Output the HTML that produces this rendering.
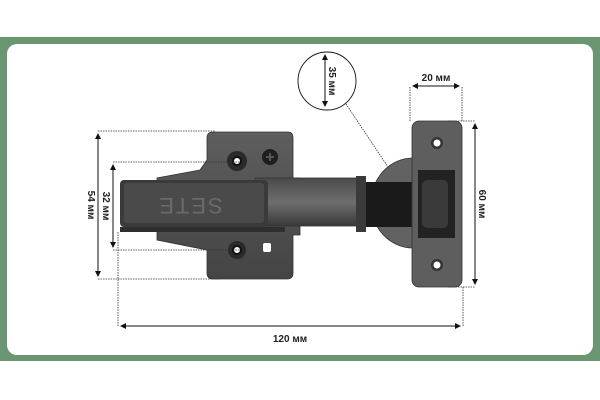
<!DOCTYPE html>
<html><head><meta charset="utf-8"><style>
html,body{margin:0;padding:0;width:600px;height:400px;background:#fff;overflow:hidden}
svg{display:block}
text{font-family:"Liberation Sans",sans-serif;font-weight:bold;font-size:10px;fill:#222}
</style></head><body>
<svg width="600" height="400" viewBox="0 0 600 400">
<defs>
<linearGradient id="g1" x1="0" y1="0" x2="0" y2="1"><stop offset="0" stop-color="#5e5e5e"/><stop offset="1" stop-color="#444"/></linearGradient>
<linearGradient id="g2" x1="0" y1="0" x2="0" y2="1"><stop offset="0" stop-color="#4a4a4a"/><stop offset="0.5" stop-color="#6e6e6e"/><stop offset="1" stop-color="#3a3a3a"/></linearGradient>
<marker id="a" markerWidth="6" markerHeight="6" refX="5" refY="3" orient="auto-start-reverse"><path d="M0,0 L6,3 L0,6z" fill="#111"/></marker>
</defs>
<rect x="0" y="37" width="600" height="324" fill="#6b9672"/>
<rect x="7" y="44" width="586" height="311" rx="10" fill="#fff"/>
<!-- mounting plate -->
<path d="M207,138 Q207,132 213,132 L288,132 Q293,132 293,138 L293,178 L300,178 L300,235 L293,235 L293,273 Q293,279 287,279 L213,279 Q207,279 207,273 L207,250 L157,240 L157,178 L200,170 L207,160 Z" fill="url(#g1)" stroke="#333" stroke-width="0.8"/>
<circle cx="237" cy="161" r="10" fill="#2a2a2a"/><circle cx="237" cy="161" r="5" fill="#111"/><circle cx="237" cy="161" r="3" fill="#fff"/>
<circle cx="270" cy="157" r="8" fill="#1e1e1e"/><path d="M266,157h8M270,153v8" stroke="#555" stroke-width="2"/>
<circle cx="237" cy="250" r="9" fill="#2a2a2a"/><circle cx="237" cy="250" r="5" fill="#111"/><circle cx="237" cy="250" r="3" fill="#fff"/>
<rect x="263" y="243" width="8" height="9" rx="2" fill="#fff"/>
<!-- arm -->
<rect x="255" y="178" width="105" height="48" fill="url(#g2)" stroke="#333" stroke-width="0.8"/>
<rect x="120" y="180" width="148" height="47" rx="4" fill="#3a3a3a"/>
<rect x="124" y="183" width="140" height="40" rx="3" fill="#4a4a4a"/>
<text x="190" y="212" text-anchor="middle" transform="rotate(180 190 205)" style="font-size:22px;fill:#6a6a6a;letter-spacing:2px;font-weight:normal">SETE</text>
<rect x="120" y="227" width="165" height="5" fill="#2e2e2e"/>
<rect x="356" y="176" width="10" height="56" fill="#3a3a3a"/>
<!-- cup -->
<path d="M413,158 A42,45 0 0 0 413,248 Z" fill="#626262" stroke="#333" stroke-width="0.8"/>
<rect x="366" y="182" width="47" height="45" fill="#1a1a1a"/>
<!-- door plate -->
<rect x="412" y="121" width="50" height="166" rx="7" fill="#5e5e5e" stroke="#333" stroke-width="0.8"/>
<path d="M418,170 L455,170 L455,238 L418,238 Z" fill="#222"/>
<rect x="422" y="180" width="26" height="48" rx="5" fill="#3a3a3a"/>
<circle cx="437" cy="143" r="6" fill="#333"/><circle cx="437" cy="143" r="3.5" fill="#fff"/>
<circle cx="437" cy="265" r="6" fill="#333"/><circle cx="437" cy="265" r="3.5" fill="#fff"/>
<!-- dimension lines -->
<g stroke="#333" stroke-width="0.8" stroke-dasharray="1.5,1" fill="none">
<path d="M98,131H215M98,279H220M113,162H240M113,250H240M118,232V326M463,287V326M410,121V86M462,121V86M448,121H475M448,287H475"/>
<path d="M346,104 L388,167"/>
</g>
<g stroke="#111" stroke-width="1" fill="none">
<path d="M98,134V276" marker-start="url(#a)" marker-end="url(#a)"/>
<path d="M113,165V247" marker-start="url(#a)" marker-end="url(#a)"/>
<path d="M121,326H460" marker-start="url(#a)" marker-end="url(#a)"/>
<path d="M413,86H459" marker-start="url(#a)" marker-end="url(#a)"/>
<path d="M475,124V284" marker-start="url(#a)" marker-end="url(#a)"/>
<circle cx="327" cy="81" r="29" fill="#fff" stroke-width="0.9"/>
</g>
<path d="M325,55V106" stroke="#111" stroke-width="1" marker-start="url(#a)" marker-end="url(#a)"/>
<text x="290" y="342" text-anchor="middle">120 мм</text>
<text x="436" y="81" text-anchor="middle">20 мм</text>
<text transform="translate(88,205) rotate(90)" text-anchor="middle">54 мм</text>
<text transform="translate(103,206) rotate(90)" text-anchor="middle">32 мм</text>
<text transform="translate(479,204) rotate(90)" text-anchor="middle">60 мм</text>
<text transform="translate(329,81) rotate(90)" text-anchor="middle">35 мм</text>
</svg>
</body></html>
